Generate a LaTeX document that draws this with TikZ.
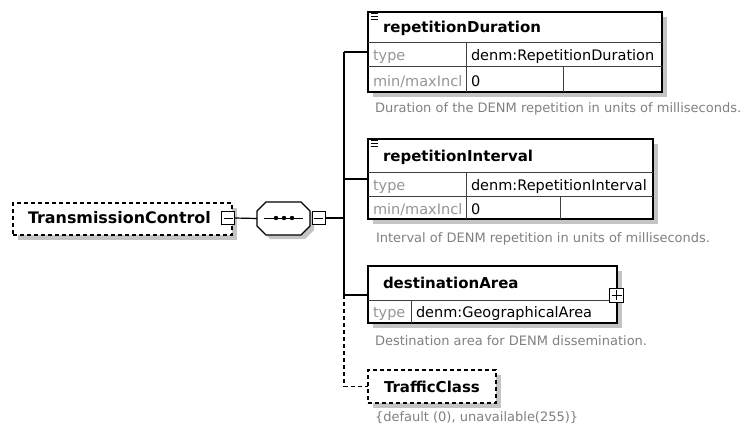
\documentclass[tikz,border=0pt]{standalone}
\usepackage{fontspec}
\setmainfont{DejaVu Sans}
\definecolor{shd}{RGB}{196,196,196}
\definecolor{desc}{RGB}{128,128,128}
\definecolor{lbl}{RGB}{150,150,150}
\tikzset{
 every node/.style={inner sep=0pt, outer sep=0pt},
 frame/.style={draw=black, line width=1.2pt, fill=white},
 dframe/.style={draw=black, line width=1.2pt, fill=white, dash pattern=on 4pt off 3pt},
 inner/.style={draw=black!75, line width=1pt},
 titletext/.style={font=\fontsize{15}{17}\selectfont\bfseries, anchor=base west},
 valtext/.style={font=\fontsize{14.5}{17}\selectfont, anchor=base west},
 lbltext/.style={valtext, text=lbl},
 desctext/.style={font=\fontsize{13}{15}\selectfont, text=desc, anchor=base west},
 conn/.style={line width=1.2pt},
 iconbox/.style={draw=black, line width=1pt, fill=white, minimum size=13pt},
 eqicon/.style={line width=1.1pt},
}
\begin{document}
\begin{tikzpicture}[x=1pt,y=-1pt]
\useasboundingbox (0,0) rectangle (744,428);

% ---------- TransmissionControl ----------
\fill[shd] (18,208) rectangle (237,240);
\node[dframe, minimum width=219pt, minimum height=32pt] (tc) at (122.5,219) {};
\node[titletext, font=\fontsize{15.9}{18}\selectfont\bfseries] (tctext) at (28,223.5) {TransmissionControl};
\node[iconbox] (m1) at (228,218) {};
\draw[line width=1pt] ([xshift=2pt]m1.west) -- ([xshift=-2pt]m1.east);

% ---------- sequence ----------
\node[minimum width=53pt, minimum height=33pt] (seq) at (283.5,218.5) {};
\fill[shd] (270,206) -- (305,206) -- (314,215) -- (314,230) -- (305,239) -- (270,239) -- (261,230) -- (261,215) -- cycle;
\draw[frame] (266,202) -- (301,202) -- (310,211) -- (310,226) -- (301,235) -- (266,235) -- (257,226) -- (257,211) -- cycle;
\draw[line width=1pt] (264,218) -- (303,218);
\foreach \x in {276,284,292} \fill (\x,218) circle (2.2pt);
\node[iconbox] (m2) at (318.5,218) {};
\draw[line width=1pt] ([xshift=2pt]m2.west) -- ([xshift=-2pt]m2.east);

\draw[conn] (m1.east) -- (seq.west);
\coordinate (bus) at (344,218);
\draw[conn] (m2.east) -- (bus);

% junction coordinates
\coordinate (j1) at (344,52);
\coordinate (j2) at (344,179);
\coordinate (j3) at (344,295);
\coordinate (j4) at (344,386.5);
\draw[conn] (j1) -- (j3);

% ---------- repetitionDuration ----------
\fill[shd] (373,17) rectangle (667,97);
\node[frame, minimum width=294pt, minimum height=80pt] (rd) at (515,52) {};
\draw[inner] (368,43) -- (662,43) (368,67) -- (662,67) (466,43) -- (466,92) (563,67) -- (563,92);
\draw[eqicon] (370.5,13.5) -- (378,13.5) (370.5,16.3) -- (377.5,16.3) (370.5,19.1) -- (377.5,19.1);
\node[titletext] (rdt) at (383,33) {repetitionDuration};
\node[lbltext] (rdl1) at (373,61) {type};
\node[valtext] (rdv1) at (471,61) {denm:RepetitionDuration};
\node[lbltext] (rdl2) at (373,86) {min/maxIncl};
\node[valtext] (rdv2) at (471,86) {0};
\node[desctext] (rdd) at (375,112) {Duration of the DENM repetition in units of milliseconds.};
\draw[conn] (j1) -- (rd.west);

% ---------- repetitionInterval ----------
\fill[shd] (373,144) rectangle (658,224);
\node[frame, minimum width=285pt, minimum height=80pt] (ri) at (510.5,179) {};
\draw[inner] (368,172) -- (653,172) (368,196) -- (653,196) (466,172) -- (466,219) (560,196) -- (560,219);
\draw[eqicon] (370.5,140.5) -- (378,140.5) (370.5,143.3) -- (377.5,143.3) (370.5,146.1) -- (377.5,146.1);
\node[titletext] (rit) at (383,161) {repetitionInterval};
\node[lbltext] (ril1) at (373,190) {type};
\node[valtext] (riv1) at (471,190) {denm:RepetitionInterval};
\node[lbltext] (ril2) at (373,214) {min/maxIncl};
\node[valtext] (riv2) at (471,214) {0};
\node[desctext] (rid) at (376,242) {Interval of DENM repetition in units of milliseconds.};
\draw[conn] (j2) -- (ri.west);

% ---------- destinationArea ----------
\fill[shd] (373,271) rectangle (622,328);
\node[frame, minimum width=249pt, minimum height=57pt] (da) at (492.5,294.5) {};
\draw[inner] (368,300) -- (617,300) (411,300) -- (411,323);
\node[titletext] (dat) at (383,288) {destinationArea};
\node[lbltext] (dal1) at (373,317) {type};
\node[valtext] (dav1) at (416,317) {denm:GeographicalArea};
\node[iconbox, minimum size=14pt] (p1) at (616.5,295) {};
\draw[line width=1pt] ([xshift=2pt]p1.west) -- ([xshift=-2pt]p1.east) ([yshift=-2pt]p1.north) -- ([yshift=2pt]p1.south);
\node[desctext] (dad) at (375,345) {Destination area for DENM dissemination.};
\draw[conn] (j3) -- (j3 -| da.west);

% ---------- TrafficClass ----------
\fill[shd] (373,375) rectangle (501,408);
\node[dframe, minimum width=128pt, minimum height=33pt] (trc) at (432,386.5) {};
\node[titletext] (trct) at (384,392) {TrafficClass};
\node[desctext] (trcd) at (375,421) {\{default (0), unavailable(255)\}};
\draw[conn, dash pattern=on 4pt off 3pt] (j3) -- (j4) -- (trc.west);
\end{tikzpicture}
\end{document}
